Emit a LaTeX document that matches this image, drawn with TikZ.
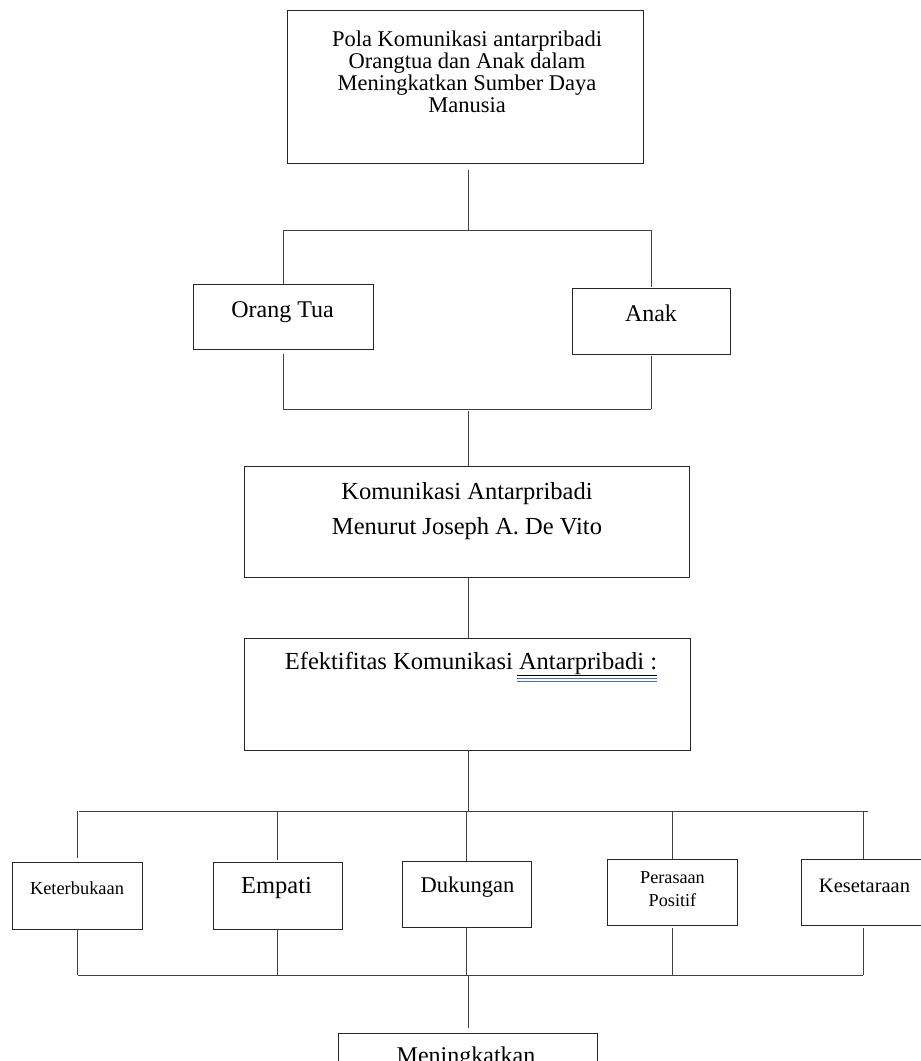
\documentclass[tikz,border=0pt]{standalone}
\usepackage{fontspec}
\setmainfont{Liberation Serif}
\usetikzlibrary{calc}
\definecolor{garisbiru}{RGB}{70,105,215}
\begin{document}
\begin{tikzpicture}[x=1pt,y=-1pt,
  kotak/.style={draw=black!85,line width=0.9pt,inner sep=0pt},
  garis/.style={draw=black!75,line width=0.9pt},
  teks/.style={inner sep=0pt,align=center}]
\useasboundingbox (0,0) rectangle (921,1061);
\clip (0,0) rectangle (921,1061);

% kotak-kotak
\node[kotak,minimum width=356,minimum height=153] (judul) at (465,86.5) {};
\node[kotak,minimum width=180,minimum height=65] (ortu) at (283,316.5) {};
\node[kotak,minimum width=158,minimum height=66] (anak) at (651,321) {};
\node[kotak,minimum width=445,minimum height=111] (komu) at (466.5,521.5) {};
\node[kotak,minimum width=446,minimum height=112] (efek) at (467,694) {};
\node[kotak,minimum width=130,minimum height=67] (ket) at (77,895.5) {};
\node[kotak,minimum width=129,minimum height=67] (emp) at (277.5,895.5) {};
\node[kotak,minimum width=129,minimum height=66] (duk) at (466.5,894) {};
\node[kotak,minimum width=130,minimum height=66] (per) at (672,892) {};
\node[kotak,minimum width=124,minimum height=66] (kes) at (863,892) {};
\node[kotak,minimum width=259,minimum height=90] (men) at (467.5,1078) {};

% teks
\node[teks,font=\fontsize{22.5}{22}\selectfont] (judul-t) at (467,72)
  {Pola Komunikasi antarpribadi\\Orangtua dan Anak dalam\\Meningkatkan Sumber Daya\\Manusia};
\node[teks,anchor=base,font=\fontsize{24}{28}\selectfont] (ortu-t) at (282.5,317) {Orang Tua};
\node[teks,anchor=base,font=\fontsize{24}{28}\selectfont] (anak-t) at (651,321) {Anak};
\node[teks,font=\fontsize{24.5}{35}\selectfont] (komu-t) at (467,511)
  {Komunikasi Antarpribadi\\Menurut Joseph A. De Vito};
\node[teks,anchor=base,font=\fontsize{24.5}{29}\selectfont] (efek-t) at (471,669)
  {Efektifitas Komunikasi Antarpribadi :};
\node[teks,anchor=base,font=\fontsize{18.4}{22}\selectfont] (ket-t) at (77,894) {Keterbukaan};
\node[teks,anchor=base,font=\fontsize{24.5}{29}\selectfont] (emp-t) at (276.5,893) {Empati};
\node[teks,anchor=base,font=\fontsize{22.5}{27}\selectfont] (duk-t) at (467.5,892) {Dukungan};
\node[teks,font=\fontsize{18.2}{23}\selectfont] (per-t) at (672.5,889.5) {Perasaan\\Positif};
\node[teks,anchor=base,font=\fontsize{20.5}{25}\selectfont] (kes-t) at (864.5,892) {Kesetaraan};
\node[teks,anchor=base,font=\fontsize{24}{28}\selectfont] (men-t) at (466,1063) {Meningkatkan};

% garis bawah kata
\draw[black,line width=0.8pt] ($(efek-t.base east)+(-140,6)$) -- ($(efek-t.base east)+(0,6)$);
\draw[garisbiru,line width=0.9pt] ($(efek-t.base east)+(-140,9.5)$) -- ($(efek-t.base east)+(0,9.5)$);
\draw[garisbiru,line width=0.9pt] ($(efek-t.base east)+(-140,12.5)$) -- ($(efek-t.base east)+(0,12.5)$);

% cabang atas
\coordinate (j1) at (468,230);
\coordinate (b1L) at (283,230);
\coordinate (b1R) at (651,230);
\path[garis,shorten <=7pt] (judul.south -| j1) -- (j1);
\path[garis] (b1L) -- (b1R);
\path[garis] (b1L) -- (ortu.north);
\path[garis,shorten >=1pt] (b1R) -- (anak.north);

\coordinate (j2) at (468,409);
\path[garis,shorten <=5pt] (ortu.south) -- (ortu.south |- j2);
\path[garis,shorten <=2pt] (anak.south) -- (anak.south |- j2);
\path[garis] (ortu.south |- j2) -- (anak.south |- j2);
\path[garis,shorten <=2pt] (j2) -- (j2 |- komu.north);
\path[garis,shorten <=1pt] (komu.south -| j2) -- (efek.north -| j2);

% cabang bawah
\coordinate (j3) at (468,811);
\coordinate (b3L) at (79,811);
\coordinate (b3R) at (868,811);
\path[garis] (efek.south -| j3) -- (j3);
\path[garis] (b3L) -- (b3R);
\path[garis,shorten >=4pt] (ket.north |- j3) -- (ket.north);
\path[garis,shorten >=2pt] (emp.north |- j3) -- (emp.north);
\path[garis] (duk.north |- j3) -- (duk.north);
\path[garis] (per.north |- j3) -- (per.north);
\path[garis] (kes.north |- j3) -- (kes.north);

\coordinate (j4) at (468,975);
\coordinate (b4L) at (78,975);
\coordinate (b4R) at (863,975);
\path[garis] (ket.south) -- (ket.south |- j4);
\path[garis] (emp.south) -- (emp.south |- j4);
\path[garis] (duk.south) -- (duk.south |- j4);
\path[garis,shorten <=3pt] (per.south) -- (per.south |- j4);
\path[garis,shorten <=3pt] (kes.south) -- (kes.south |- j4);
\path[garis] (b4L) -- (b4R);
\path[garis,shorten >=5pt] (j4) -- (j4 |- men.north);
\end{tikzpicture}
\end{document}
